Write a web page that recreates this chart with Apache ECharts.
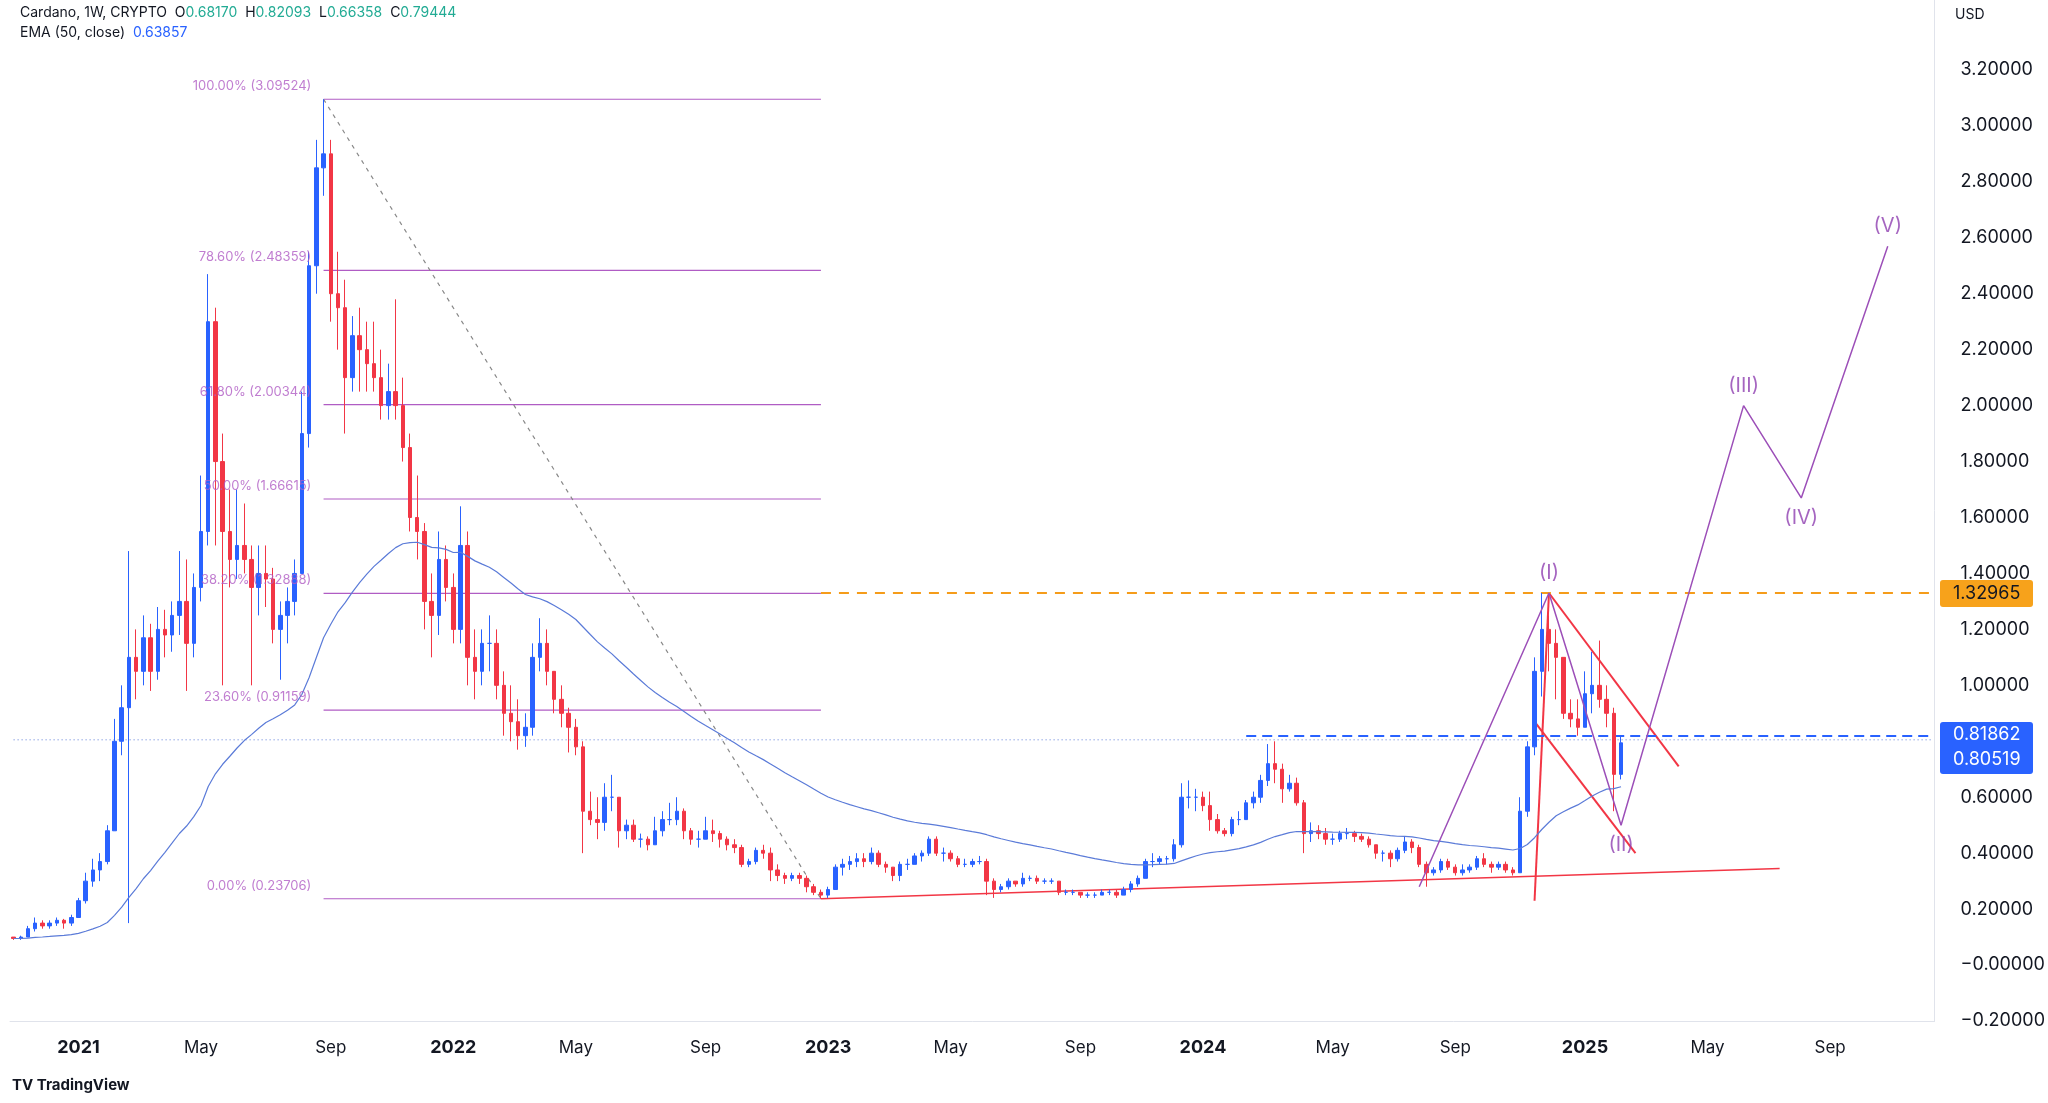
<!DOCTYPE html>
<html><head><meta charset="utf-8">
<script src="https://cdn.jsdelivr.net/npm/echarts@6/dist/echarts.min.js"></script>
<style>html,body{margin:0;padding:0;background:#fff}#c{width:2048px;height:1103px}</style>
</head><body><div id="c"></div>
<script>
const startDate = '2020-11-02';
const totalWeeks = 267;
const closes = [0.095,0.10,0.13,0.15,0.14,0.15,0.16,0.15,0.17,
0.23,0.30,0.34,0.37, 0.48,0.80,0.92,1.10, 1.05,1.17,1.05,1.20,1.18, 1.25,1.30,1.15,1.35, 1.55,2.30,1.80,1.55,1.45, 1.50,1.45,1.35,1.40, 1.38,1.20,1.25,1.30, 1.40,1.90,2.50,2.85,2.90, 2.40,2.35,2.10,2.25, 2.20,2.15,2.10,2.00, 2.05,2.00,1.85,1.60,1.55, 1.30,1.25,1.45,1.35,
1.20,1.50,1.10,1.05,1.15, 1.15,1.00,0.90,0.87, 0.82,0.85,1.10,1.15, 1.05,0.95,0.90,0.85, 0.78,0.55,0.52,0.51,0.60, 0.60,0.48,0.50,0.45, 0.45,0.43,0.48,0.52, 0.52,0.55,0.48,0.45,0.45, 0.48,0.47,0.45,0.43, 0.42,0.36,0.37,0.41,0.40, 0.34,0.32,0.31,0.32, 0.31,0.28,0.26,0.25,
0.27,0.35,0.36,0.37,0.38, 0.37,0.40,0.36,0.35, 0.32,0.36,0.36,0.39, 0.40,0.45,0.40,0.40, 0.38,0.36,0.36,0.37,0.37, 0.30,0.27,0.28,0.30, 0.29,0.31,0.31,0.30,0.30, 0.30,0.26,0.26,0.26, 0.25,0.25,0.25,0.26, 0.26,0.25,0.27,0.29,0.31, 0.37,0.37,0.38,0.38, 0.43,0.60,0.60,0.60,
0.57,0.52,0.48,0.47,0.52, 0.52,0.58,0.60,0.66, 0.72,0.70,0.63,0.65, 0.58,0.47,0.48,0.47,0.45, 0.45,0.47,0.47,0.46, 0.45,0.43,0.40,0.40, 0.38,0.41,0.44,0.42,0.36, 0.33,0.34,0.37,0.35, 0.33,0.34,0.35,0.38,0.36, 0.35,0.36,0.34,0.33, 0.55,0.78,1.05,1.20, 1.15,1.10,0.90,0.88,0.85,
0.97,1.00,0.95,0.90, 0.6817,0.79444];
const highs = [0.10,0.105,0.14,0.17,0.16,0.16,0.17,0.165,0.18,
0.24,0.33,0.38,0.40, 0.50,0.88,1.00,1.48, 1.20,1.25,1.22,1.28,1.27, 1.30,1.48,1.45,1.40, 1.75,2.47,2.35,1.90,1.70, 1.70,1.65,1.50,1.50, 1.50,1.42,1.30,1.35, 1.45,2.05,2.55,2.95,3.09524, 2.95,2.55,2.45,2.32, 2.35,2.30,2.30,2.20, 2.15,2.38,2.10,1.90,1.75, 1.58,1.40,1.55,1.50,
1.40,1.64,1.55,1.20,1.20, 1.25,1.20,1.05,1.00, 0.95,0.90,1.15,1.24, 1.20,1.05,1.00,0.92, 0.88,0.80,0.62,0.60,0.65, 0.68,0.60,0.52,0.52, 0.47,0.46,0.53,0.55, 0.58,0.60,0.56,0.49,0.48, 0.53,0.52,0.48,0.46, 0.45,0.43,0.38,0.42,0.43, 0.42,0.36,0.33,0.33, 0.33,0.32,0.29,0.27,
0.28,0.36,0.38,0.39,0.40, 0.40,0.42,0.41,0.37, 0.35,0.37,0.38,0.40, 0.41,0.46,0.46,0.42, 0.41,0.39,0.38,0.38,0.39, 0.38,0.31,0.29,0.31, 0.30,0.33,0.32,0.32,0.31, 0.31,0.30,0.27,0.27, 0.26,0.26,0.26,0.27, 0.27,0.27,0.28,0.30,0.32, 0.38,0.40,0.39,0.39, 0.45,0.65,0.66,0.63,
0.62,0.62,0.54,0.49,0.53, 0.55,0.59,0.62,0.68, 0.79,0.80,0.72,0.68, 0.67,0.59,0.51,0.50,0.49, 0.47,0.48,0.49,0.48, 0.47,0.46,0.43,0.41, 0.41,0.42,0.46,0.45,0.43, 0.37,0.35,0.38,0.38, 0.36,0.36,0.36,0.39,0.40, 0.37,0.37,0.37,0.35, 0.60,0.80,1.10,1.33, 1.25,1.20,1.10,0.95,0.95,
1.05,1.12,1.16,1.00, 0.92,0.82093];
const lows = [0.09,0.09,0.10,0.12,0.13,0.13,0.14,0.13,0.14,
0.17,0.22,0.28,0.30, 0.36,0.48,0.75,0.15, 0.95,1.00,0.98,1.02,1.10, 1.12,1.18,0.98,1.10, 1.30,1.50,1.50,1.00,1.35, 1.38,1.40,1.00,1.25, 1.28,1.15,1.02,1.15, 1.25,1.40,1.85,2.40,2.75, 2.30,2.20,1.90,2.05, 2.05,2.05,2.05,1.95, 1.95,1.95,1.80,1.55,1.45, 1.20,1.10,1.18,1.30,
1.15,1.15,1.00,0.95,1.00, 1.05,0.95,0.82,0.80, 0.77,0.78,0.82,1.05, 1.00,0.90,0.85,0.76, 0.75,0.40,0.50,0.45,0.48, 0.55,0.42,0.45,0.44, 0.42,0.41,0.43,0.46, 0.50,0.50,0.45,0.43,0.42, 0.45,0.44,0.42,0.41, 0.40,0.35,0.35,0.36,0.38, 0.30,0.30,0.29,0.30, 0.29,0.26,0.25,0.237,
0.24,0.27,0.32,0.34,0.35, 0.35,0.36,0.35,0.33, 0.30,0.30,0.34,0.36, 0.37,0.39,0.39,0.37, 0.37,0.35,0.35,0.35,0.36, 0.25,0.24,0.26,0.27, 0.28,0.28,0.30,0.29,0.29, 0.29,0.25,0.25,0.25, 0.24,0.24,0.24,0.25, 0.25,0.24,0.25,0.26,0.28, 0.31,0.35,0.36,0.36, 0.37,0.42,0.56,0.55,
0.55,0.48,0.47,0.46,0.46, 0.50,0.52,0.56,0.58, 0.64,0.65,0.58,0.62, 0.57,0.40,0.44,0.45,0.43, 0.43,0.44,0.45,0.44, 0.44,0.42,0.38,0.37, 0.35,0.37,0.40,0.40,0.35, 0.28,0.32,0.33,0.34, 0.32,0.32,0.33,0.34,0.35, 0.33,0.34,0.33,0.32, 0.33,0.53,0.75,0.96, 1.05,0.95,0.88,0.85,0.82,
0.85,0.90,0.92,0.85, 0.55,0.66358];
const firstOpen = 0.10;
const fibLevels = [3.09524,2.48359,2.00344,1.66615,1.32888,0.91159,0.23706];
const fibNames = ['100.00%','78.60%','61.80%','50.00%','38.20%','23.60%','0.00%'];
const waveNames = ['(I)','(II)','(III)','(IV)','(V)'];
const wavePoints = [[195,0.28],[213,1.33],[223,0.5],[240,2.0],[248,1.67],[260,2.57]];
const resistance = 1.32965, neckline = 0.81862, lastClose = 0.80519;
const yTicks = {min:-0.2, max:3.45, interval:0.2};

const cats = [];
const d0 = new Date(startDate+'T00:00:00Z');
for (let i=0;i<totalWeeks;i++){ const d=new Date(d0.getTime()+i*7*86400000); cats.push(d.toISOString().slice(0,10)); }
const months=['Jan','Feb','Mar','Apr','May','Jun','Jul','Aug','Sep','Oct','Nov','Dec'];
const candles = closes.map((c,i)=>[i===0?firstOpen:closes[i-1], c, lows[i], highs[i]]);
const ema=[]; const k=2/51; let e=closes[0];
closes.forEach((c,i)=>{ e = i===0?c:c*k+e*(1-k); ema.push(+e.toFixed(4)); });

const purple='#9c4fb8', red='#f23645', blue='#2962ff';
const series = [];
series.push({type:'candlestick',data:candles,barWidth:'55%',
  itemStyle:{color:'#2962ff',color0:'#f23645',borderColor:'#2962ff',borderColor0:'#f23645',borderWidth:1},z:5});
series.push({type:'line',data:ema,symbol:'none',lineStyle:{color:'#5b7bd8',width:1.2},z:6,silent:true});
fibLevels.forEach((lv)=>{
  series.push({type:'line',data:[[43,lv],[112,lv]],symbol:'none',silent:true,lineStyle:{color:'#b05cc4',width:1.2},z:3});
});
series.push({type:'scatter',symbolSize:0,silent:true,z:7,
  data:fibLevels.map((lv,i)=>[42.2,lv,fibNames[i]+' ('+lv.toFixed(5)+')']),
  label:{show:true,position:'left',formatter:p=>p.data[2],color:'#b05cc4',fontSize:13,fontFamily:'Inter',offset:[0,-13]}});
series.push({type:'line',data:[[43,3.09524],[112,0.23706]],symbol:'none',silent:true,lineStyle:{color:'#888',width:1.2,type:[4,5]},z:3});
series.push({type:'line',data:[[112,0.237],[245,0.345]],symbol:'none',silent:true,lineStyle:{color:red,width:1.5},z:4});
series.push({type:'line',data:[[210.5,0.23],[213,1.33]],symbol:'none',silent:true,lineStyle:{color:red,width:2},z:4});
series.push({type:'line',data:[[213,1.33],[230.5,0.71]],symbol:'none',silent:true,lineStyle:{color:red,width:2},z:4});
series.push({type:'line',data:[[211,0.87],[224.5,0.40]],symbol:'none',silent:true,lineStyle:{color:red,width:2},z:4});
series.push({type:'line',data:[[112,resistance],[266,resistance]],symbol:'none',silent:true,lineStyle:{color:'#f59c1a',width:2,type:[10,8]},z:4});
series.push({type:'line',data:[[171,neckline],[266,neckline]],symbol:'none',silent:true,lineStyle:{color:blue,width:2,type:[10,6]},z:4});
series.push({type:'line',data:[[0,lastClose],[266,lastClose]],symbol:'none',silent:true,lineStyle:{color:'#5b7bd8',width:1,type:[1,3]},z:4});
series.push({type:'line',data:wavePoints,symbol:'none',silent:true,lineStyle:{color:purple,width:1.5},z:6});
const wlPos=['top','bottom','top','bottom','top'];
series.push({type:'scatter',symbolSize:0,silent:true,z:8,
  data:wavePoints.slice(1).map((p,i)=>({value:[p[0],p[1]],label:{position:wlPos[i],formatter:waveNames[i]}})),
  label:{show:true,color:'#8e3fb0',fontSize:20,fontFamily:'Inter',distance:10}});

function xLabel(i){
  const d=new Date(cats[i]+'T00:00:00Z'); const m=d.getUTCMonth(), day=d.getUTCDate();
  if (day>7) return null;
  if (m===0) return '{b|'+d.getUTCFullYear()+'}';
  if (m===4||m===8) return months[m];
  return null;
}
const chart = echarts.init(document.getElementById('c'));
chart.setOption({
  animation:false,backgroundColor:'#fff',
  grid:{left:10,right:111,top:0,bottom:82},
  xAxis:{type:'category',data:cats,boundaryGap:true,
    axisLine:{onZero:false,lineStyle:{color:'#e0e3eb'}},axisTick:{show:false},splitLine:{show:false},
    axisLabel:{interval:(i)=>xLabel(i)!==null,formatter:(v,i)=>xLabel(i)||'',color:'#131722',fontSize:17,fontFamily:'Inter',margin:18,
      rich:{b:{fontWeight:'bold',fontSize:18,color:'#131722',fontFamily:'Inter'}}}},
  yAxis:{type:'value',position:'right',min:yTicks.min,max:yTicks.max,interval:yTicks.interval,
    axisLine:{show:true,lineStyle:{color:'#e0e3eb'}},axisTick:{show:false},splitLine:{show:false},
    axisLabel:{showMaxLabel:false,color:'#131722',fontSize:18,fontFamily:'Inter',margin:26,
      formatter:v=>(v>3.3?'':(Math.abs(v)<1e-9?'\u22120.00000':(v<0?'\u2212'+Math.abs(v).toFixed(5):v.toFixed(5))))}},
  series
});
const yR=chart.convertToPixel({yAxisIndex:0},resistance);
const yN=chart.convertToPixel({yAxisIndex:0},neckline);
const ff='Inter';
chart.setOption({graphic:[
  {type:'text',left:20,top:6,style:{rich:{a:{fill:'#131722',fontSize:14,fontFamily:ff},g:{fill:'#22ab94',fontSize:14,fontFamily:ff}},
    text:'{a|Cardano, 1W, CRYPTO  O}{g|0.68170}{a|  H}{g|0.82093}{a|  L}{g|0.66358}{a|  C}{g|0.79444}'}},
  {type:'text',left:20,top:26,style:{rich:{a:{fill:'#131722',fontSize:14,fontFamily:ff},b:{fill:'#2962ff',fontSize:14,fontFamily:ff}},
    text:'{a|EMA (50, close)  }{b|0.63857}'}},
  {type:'rect',z:100,shape:{x:1945,y:0,width:103,height:32},style:{fill:'#fff'}},
  {type:'text',z:101,left:1955,top:8,style:{text:'USD',fill:'#131722',fontSize:14,fontFamily:ff}},
  {type:'rect',z:100,shape:{x:1940,y:yR-13,width:93,height:27,r:3},style:{fill:'#f7a21b'}},
  {type:'text',z:101,x:1953,y:yR,style:{text:resistance.toFixed(5),fill:'#131722',fontSize:18,fontFamily:ff,verticalAlign:'middle'}},
  {type:'rect',z:100,shape:{x:1940,y:yN-14,width:93,height:52,r:3},style:{fill:'#2962ff'}},
  {type:'text',z:101,x:1953,y:yN-1,style:{text:neckline.toFixed(5),fill:'#fff',fontSize:18,fontFamily:ff,verticalAlign:'middle'}},
  {type:'text',z:101,x:1953,y:yN+24,style:{text:lastClose.toFixed(5),fill:'#fff',fontSize:18,fontFamily:ff,verticalAlign:'middle'}},
  {type:'text',left:12,top:1078,style:{text:'TV TradingView',fill:'#131722',fontSize:15,fontFamily:ff,fontWeight:'bold'}}
]});
</script></body></html>
